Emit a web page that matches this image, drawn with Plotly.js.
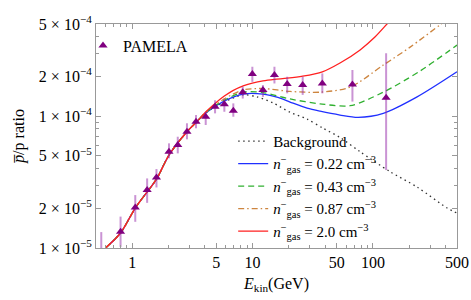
<!DOCTYPE html>
<html>
<head>
<meta charset="utf-8">
<script src="https://cdn.plot.ly/plotly-3.0.1.min.js"></script>
<style>html,body{margin:0;padding:0;background:#fff;}#chart{width:471px;height:300px;}</style>
</head>
<body>
<div id="chart"></div>
<script>
// PAMELA antiproton/proton ratio data
const pamelaE     = [0.553, 0.80, 1.06, 1.33, 1.59, 2.02, 2.39, 2.85, 3.39, 4.08, 4.88, 5.83, 6.92, 8.29, 9.96, 12.2, 15.2, 19.4, 26.1, 38.0, 67.6, 128.8];
const pamelaR     = [8.5e-6, 1.33e-5, 2.03e-5, 2.75e-5, 3.43e-5, 5.37e-5, 6.04e-5, 7.62e-5, 9.08e-5, 9.90e-5, 1.18e-4, 1.23e-4, 1.10e-4, 1.52e-4, 2.09e-4, 1.58e-4, 2.05e-4, 1.75e-4, 1.72e-4, 1.77e-4, 1.74e-4, 1.38e-4];
const pamelaUpper = [1.32e-5, 1.73e-5, 2.52e-5, 3.37e-5, 3.97e-5, 6.22e-5, 6.98e-5, 8.83e-5, 1.02e-4, 1.08e-4, 1.32e-4, 1.36e-4, 1.25e-4, 1.67e-4, 2.37e-4, 1.72e-4, 2.37e-4, 1.99e-4, 1.99e-4, 2.11e-4, 2.24e-4, 3.0e-4];
const pamelaLower = [5.0e-6, 1.02e-5, 1.58e-5, 2.20e-5, 2.88e-5, 4.79e-5, 5.22e-5, 6.67e-5, 8.09e-5, 8.57e-5, 1.05e-4, 1.08e-4, 9.9e-5, 1.36e-4, 1.82e-4, 1.40e-4, 1.77e-4, 1.49e-4, 1.45e-4, 1.49e-4, 1.29e-4, 3.9e-5];

// Model curves
const bgE   = [0.6, 0.8, 1.06, 1.59, 2.02, 2.85, 3.39, 4.1, 5.8, 8.34, 10.9, 14.8, 20.5, 28.4, 38.5, 53.3, 78.3, 139, 233, 414, 500];
const bgR   = [1.0e-5, 1.30e-5, 2.01e-5, 3.33e-5, 5.07e-5, 7.62e-5, 8.95e-5, 1.06e-4, 1.28e-4, 1.45e-4, 1.40e-4, 1.26e-4, 1.07e-4, 9.5e-5, 8.1e-5, 6.9e-5, 5.37e-5, 3.79e-5, 2.90e-5, 2.01e-5, 1.84e-5];

const n022E = [0.6, 0.8, 1.06, 1.59, 2.02, 2.85, 3.39, 4.1, 5.8, 8.34, 12.2, 16.5, 20.5, 28.4, 36.4, 53.3, 75.4, 122, 233, 500];
const n022R = [1.0e-5, 1.30e-5, 2.01e-5, 3.33e-5, 5.07e-5, 7.62e-5, 8.95e-5, 1.06e-4, 1.30e-4, 1.47e-4, 1.47e-4, 1.38e-4, 1.28e-4, 1.15e-4, 1.09e-4, 1.02e-4, 9.8e-5, 1.05e-4, 1.40e-4, 2.17e-4];

const n043E = [0.6, 0.8, 1.06, 1.59, 2.02, 2.85, 3.39, 4.1, 5.8, 8.34, 12.2, 20.5, 36.4, 64.6, 122, 247, 500];
const n043R = [1.0e-5, 1.30e-5, 2.01e-5, 3.33e-5, 5.07e-5, 7.62e-5, 8.95e-5, 1.07e-4, 1.32e-4, 1.52e-4, 1.51e-4, 1.35e-4, 1.24e-4, 1.20e-4, 1.52e-4, 2.20e-4, 3.46e-4];

const n087E = [0.6, 0.8, 1.06, 1.59, 2.02, 2.85, 3.39, 4.1, 5.8, 8.34, 12.2, 20.5, 36.4, 64.6, 122, 204, 369, 500];
const n087R = [1.0e-5, 1.30e-5, 2.01e-5, 3.33e-5, 5.07e-5, 7.62e-5, 8.95e-5, 1.07e-4, 1.35e-4, 1.58e-4, 1.62e-4, 1.54e-4, 1.52e-4, 1.66e-4, 2.44e-4, 3.34e-4, 5.0e-4, 6.2e-4];

const n20E  = [0.6, 0.8, 1.06, 1.59, 2.02, 2.85, 3.39, 4.1, 4.88, 5.83, 6.92, 8.36, 9.96, 12.2, 15.2, 19.4, 26.1, 38.0, 53.3, 78.3, 104, 131, 180];
const n20R  = [1.0e-5, 1.30e-5, 2.01e-5, 3.33e-5, 5.07e-5, 7.62e-5, 8.95e-5, 1.08e-4, 1.25e-4, 1.42e-4, 1.57e-4, 1.70e-4, 1.78e-4, 1.85e-4, 1.90e-4, 1.94e-4, 2.01e-4, 2.17e-4, 2.53e-4, 3.18e-4, 3.98e-4, 5.0e-4, 6.9e-4];

// Legend labels
const bgName   = 'Background';
const n022Name = '<i>n</i><sup>\u2212</sup><sub>gas</sub> = 0.22 cm<sup>\u22123</sup>';
const n043Name = '<i>n</i><sup>\u2212</sup><sub>gas</sub> = 0.43 cm<sup>\u22123</sup>';
const n087Name = '<i>n</i><sup>\u2212</sup><sub>gas</sub> = 0.87 cm<sup>\u22123</sup>';
const n20Name  = '<i>n</i><sup>\u2212</sup><sub>gas</sub> = 2.0 cm<sup>\u22123</sup>';

// Axis ticks
const xTickVals = [1, 5, 10, 50, 100, 500];
const xTickText = ['1', '5', '10', '50', '100', '500'];
const xMinorVals = [0.6, 0.7, 0.8, 0.9, 2, 3, 4, 6, 7, 8, 9, 20, 30, 40, 60, 70, 80, 90, 200, 300, 400];
const yTickVals = [1e-5, 2e-5, 5e-5, 1e-4, 2e-4, 5e-4];
const yTickText = ['1 \u00d7 10<sup>\u22125</sup>', '2 \u00d7 10<sup>\u22125</sup>', '5 \u00d7 10<sup>\u22125</sup>',
                   '1 \u00d7 10<sup>\u22124</sup>', '2 \u00d7 10<sup>\u22124</sup>', '5 \u00d7 10<sup>\u22124</sup>'];
const yMinorVals = [3e-5, 4e-5, 6e-5, 7e-5, 8e-5, 9e-5, 3e-4, 4e-4];

const serif = 'Liberation Serif, Times New Roman, serif';

function curve(x, y, name, color, dash) {
  return {x: x, y: y, name: name, type: 'scatter', mode: 'lines', legend: 'legend2',
          line: {color: color, width: 1.3, dash: dash, shape: 'spline', smoothing: 0.8}, hoverinfo: 'skip'};
}

const traces = [
  curve(bgE, bgR, bgName, '#333333', '1.5px,3.5px'),
  curve(n022E, n022R, n022Name, '#2030ff', 'solid'),
  curve(n043E, n043R, n043Name, '#30b030', '6px,4px'),
  curve(n087E, n087R, n087Name, '#cd853f', '6px,3px,1.5px,3px'),
  curve(n20E, n20R, n20Name, '#ff2020', 'solid'),
  {
    x: pamelaE, y: pamelaR, name: 'PAMELA', type: 'scatter', mode: 'markers', legend: 'legend',
    marker: {symbol: 'triangle-up', size: 8, color: '#800080'},
    error_y: {type: 'data', symmetric: false,
              array: pamelaUpper.map((u, i) => u - pamelaR[i]),
              arrayminus: pamelaLower.map((l, i) => pamelaR[i] - l),
              color: 'rgba(150,40,170,0.5)', thickness: 2, width: 0}
  }
];

const axisCommon = {
  type: 'log', showgrid: false, zeroline: false,
  showline: true, linecolor: '#999999', linewidth: 1, mirror: 'ticks',
  ticks: 'inside', ticklen: 5, tickcolor: '#999999', tickwidth: 1,
  tickfont: {family: serif, size: 16, color: '#000'}
};

const layout = {
  width: 471, height: 300,
  margin: {l: 96, r: 14, t: 24, b: 52},
  paper_bgcolor: '#ffffff', plot_bgcolor: '#ffffff',
  font: {family: serif, size: 16, color: '#000'},
  xaxis: Object.assign({}, axisCommon, {
    range: [Math.log10(0.5), Math.log10(500)],
    tickmode: 'array', tickvals: xTickVals, ticktext: xTickText,
    minor: {tickmode: 'array', tickvals: xMinorVals, ticks: 'inside', ticklen: 3, tickcolor: '#999999'},
    title: {text: '<i>E</i><sub>kin</sub>(GeV)', font: {family: serif, size: 16, color: '#000'}, standoff: 7}
  }),
  yaxis: Object.assign({}, axisCommon, {
    range: [Math.log10(1e-5), Math.log10(5e-4)],
    tickmode: 'array', tickvals: yTickVals, ticktext: yTickText,
    minor: {tickmode: 'array', tickvals: yMinorVals, ticks: 'inside', ticklen: 3, tickcolor: '#999999'},
    title: {text: '\u2003\u2002<i>p\u0305</i>/p ratio', font: {family: serif, size: 16, color: '#000'}, standoff: 10}
  }),
  legend: {x: -0.036, y: 0.98, xanchor: 'left', yanchor: 'top', bgcolor: 'rgba(0,0,0,0)',
           font: {family: serif, size: 16, color: '#000'}},
  legend2: {x: 0.38, y: 0.55, xanchor: 'left', yanchor: 'top', bgcolor: 'rgba(0,0,0,0)',
            font: {family: serif, size: 15, color: '#000'}, tracegroupgap: 0},
  showlegend: true
};

Plotly.newPlot('chart', traces, layout, {staticPlot: true, displayModeBar: false});
</script>
</body>
</html>
